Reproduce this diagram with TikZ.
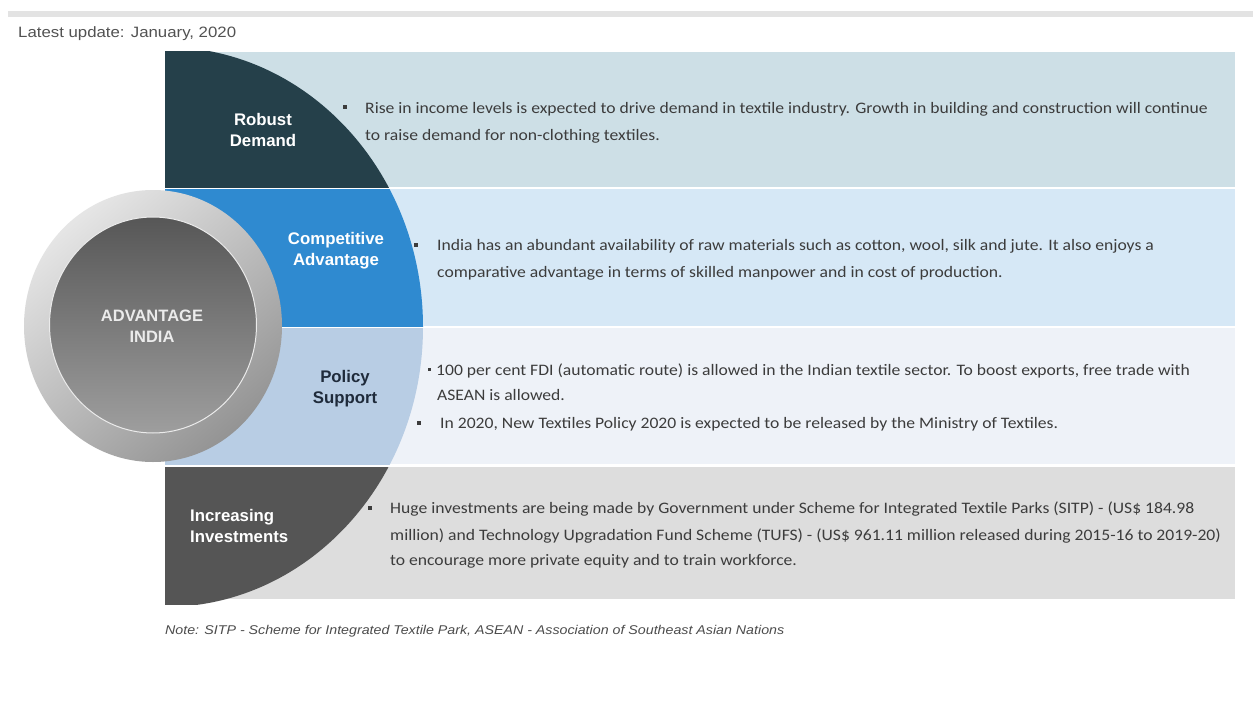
\documentclass[tikz,border=0pt]{standalone}
\usepackage{fontspec}
\setmainfont{Carlito}
\newfontfamily\bodyfont[FakeStretch=1.1]{Carlito}
\newfontfamily\arialfont{Liberation Sans}
\newfontfamily\arialwide[FakeStretch=1.12]{Liberation Sans}

\definecolor{secA}{HTML}{25404A}
\definecolor{bgA}{HTML}{CDDFE6}
\definecolor{secB}{HTML}{2F8AD0}
\definecolor{bgB}{HTML}{D6E8F6}
\definecolor{secC}{HTML}{B8CDE4}
\definecolor{bgC}{HTML}{EEF2F8}
\definecolor{secD}{HTML}{555555}
\definecolor{bgD}{HTML}{DDDDDD}
\definecolor{bodygray}{HTML}{3C3C3C}
\definecolor{labeldark}{HTML}{1F2B3B}
\definecolor{rulegray}{HTML}{E3E3E3}

\tikzset{
  lbl/.style={font=\arialfont\bfseries\fontsize{16.8}{21}\selectfont, align=center, text=white, inner sep=0pt},
  body/.style={anchor=base west, font=\bodyfont\fontsize{16}{18}\selectfont, text=bodygray, inner sep=0pt},
  bul/.style={fill=bodygray, minimum size=3.5pt, inner sep=0pt},
}

\begin{document}
\begin{tikzpicture}[x=1pt, y=-1pt]

        \useasboundingbox[fill=white] (0,0) rectangle (1253,706);

        \fill[rulegray] (8,11) rectangle (1253,17);
        \node[anchor=west, font=\arialwide\fontsize{15}{18}\selectfont, text=black!68, inner sep=0pt] (update) at (18,34) {Latest update: January, 2020};

        \foreach \t/\b/\sb/\bg/\sec in {52/187/187/bgA/secA, 189/326/326/bgB/secB, 328/464/464/bgC/secC, 467/599/604/bgD/secD} {
          \fill[\bg] (165,\t) rectangle (1235,\b);
          \begin{scope}
            \clip (165,\t) rectangle (1235,\sb);
            \fill[\sec] (165,327) ellipse [x radius=258pt, y radius=280pt];
          \end{scope}
        }

        \shade[top color=black!10, bottom color=black!42, shading angle=40] (153,326) ellipse [x radius=129pt, y radius=136pt];
        \shade[top color=black!66, bottom color=black!38, draw=black!8, line width=1pt] (153,325) ellipse [x radius=103.5pt, y radius=108pt];
        \node[font=\arialfont\bfseries\fontsize{16.5}{21}\selectfont, text=black!8, align=center, inner sep=0pt] (core) at (152,326) {ADVANTAGE\\INDIA};

        \node[lbl] (robust) at (263,130) {Robust\\Demand};
        \node[lbl] (compet) at (336,251) {Competitive\\Advantage};
        \node[lbl, text=labeldark] (policy) at (345,389) {Policy\\Support};
        \node[lbl, align=left, anchor=west] (invest) at (190,526) {Increasing\\Investments};

        \node[bul] (b1) at (345,107) {};
        \node[body] (t1a) at (365,114) {Rise in income levels is expected to drive demand in textile industry. Growth in building and construction will continue};
        \node[body] (t1b) at (365,141) {to raise demand for non-clothing textiles.};

        \node[bul] (b2) at (416,245) {};
        \node[body] (t2a) at (437,250) {India has an abundant availability of raw materials such as cotton, wool, silk and jute. It also enjoys a};
        \node[body] (t2b) at (437,277) {comparative advantage in terms of skilled manpower and in cost of production.};

        \node[bul, minimum size=3pt] (b3) at (429,369) {};
        \node[body] (t3a) at (436,375) {100 per cent FDI (automatic route) is allowed in the Indian textile sector. To boost exports, free trade with};
        \node[body] (t3b) at (437,400) {ASEAN is allowed.};
        \node[bul] (b4) at (419,423) {};
        \node[body] (t3c) at (440,428) {In 2020, New Textiles Policy 2020 is expected to be released by the Ministry of Textiles.};

        \node[bul] (b5) at (370,508) {};
        \node[body] (t4a) at (390,513) {Huge investments are being made by Government under Scheme for Integrated Textile Parks (SITP) - (US\$ 184.98};
        \node[body] (t4b) at (390,540) {million) and Technology Upgradation Fund Scheme (TUFS) - (US\$ 961.11 million released during 2015-16 to 2019-20)};
        \node[body] (t4c) at (390,565) {to encourage more private equity and to train workforce.};

        \node[anchor=west, font=\arialwide\itshape\fontsize{12.7}{16}\selectfont, text=black!70, inner sep=0pt] (note) at (165,631) {Note: SITP - Scheme for Integrated Textile Park, ASEAN - Association of Southeast Asian Nations};

      \end{tikzpicture}
\end{document}
